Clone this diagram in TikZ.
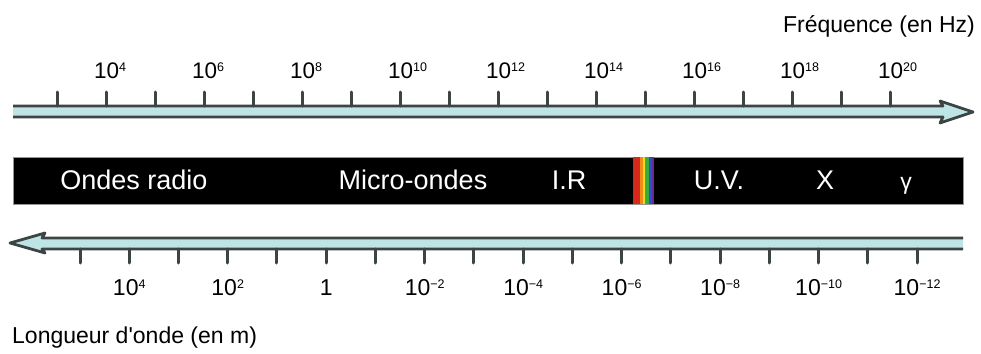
\documentclass[tikz,border=0pt]{standalone}
\usepackage{fontspec}
\setmainfont{Liberation Sans}
\definecolor{shaftfill}{RGB}{190,228,230}
\definecolor{edgegray}{RGB}{60,68,68}
\tikzset{
  axisline/.style={draw=edgegray, line width=2.8pt, line join=round},
  tickmark/.style={draw=edgegray, line width=3pt, line cap=round},
  toplab/.style={anchor=base west, inner sep=0pt, font=\fontsize{22.5}{24}\selectfont},
  botlab/.style={anchor=base, inner sep=0pt, font=\fontsize{23}{25}\selectfont},
  bandlab/.style={anchor=base, inner sep=0pt, text=white, font=\fontsize{27}{30}\selectfont},
  titlelab/.style={inner sep=0pt, font=\fontsize{23}{26}\selectfont},
  stripe/.style={inner sep=0pt, minimum height=47pt, anchor=north west},
}
\newcommand\expo[1]{\raisebox{7pt}{\fontsize{12.5}{12}\selectfont #1}}
\begin{document}
\begin{tikzpicture}[x=1pt,y=-1pt]
\useasboundingbox (0,0) rectangle (981,353);
% frequency axis
\fill[shaftfill] (13,106) -- (943,106) -- (940,101) -- (973,112) -- (940,123) -- (943,117) -- (13,117) -- cycle;
\foreach \i in {0,...,17}
  \draw[tickmark] ({57+49*\i},92) -- ({57+49*\i},106);
\draw[axisline] (13,106) -- (943,106) -- (940,101) -- (973,112) -- (940,123) -- (943,117) -- (13,117);
\foreach \e [count=\k] in {4,6,...,20}
  \node[toplab] (f\e) at ({57+49*(2*\k-1)-12},78) {10\expo{\e}};
\node[titlelab, anchor=base east] (freq) at (975,33) {Fréquence (en Hz)};
% spectrum band
\node[stripe, fill=black, draw={rgb,255:red,150;green,150;blue,150}, line width=0.8pt, minimum width=950pt] (band) at (13,157) {};
\node[stripe, fill={rgb,255:red,215;green,40;blue,30}, minimum width=7pt] (sred) at (633,157) {};
\node[stripe, fill={rgb,255:red,240;green,140;blue,20}, minimum width=2.5pt] (sorange) at (640,157) {};
\node[stripe, fill={rgb,255:red,235;green,220;blue,40}, minimum width=2pt] (syellow) at (642.5,157) {};
\node[stripe, fill={rgb,255:red,60;green,170;blue,60}, minimum width=4.5pt] (sgreen) at (644.5,157) {};
\node[stripe, fill={rgb,255:red,40;green,80;blue,200}, minimum width=2.5pt] (sblue) at (649,157) {};
\node[stripe, fill={rgb,255:red,110;green,40;blue,150}, minimum width=2.5pt] (sviolet) at (651.5,157) {};
\node[bandlab] (radio) at (134,189) {Ondes radio};
\node[bandlab] (micro) at (413,189) {Micro-ondes};
\node[bandlab] (ir) at (569,189) {I.R};
\node[bandlab] (uv) at (719,189) {U.V.};
\node[bandlab] (xr) at (825,189) {X};
\node[bandlab, font=\fontsize{23}{24}\selectfont] (gam) at (906,189) {γ};
% wavelength axis
\fill[shaftfill] (963,238) -- (42,238) -- (45,233) -- (10,243) -- (45,253) -- (42,249) -- (963,249) -- cycle;
\foreach \i in {0,...,17}
  \draw[tickmark] ({80+49.24*\i},249) -- ({80+49.24*\i},263);
\draw[axisline] (963,238) -- (42,238) -- (45,233) -- (10,243) -- (45,253) -- (42,249) -- (963,249);
\foreach \t [count=\k] in {10\expo{4},10\expo{2},1,10\expo{−2},10\expo{−4},10\expo{−6},10\expo{−8},10\expo{−10},10\expo{−12}}
  \node[botlab] (w\k) at ({80+49.24*(2*\k-1)},295) {\t};
\node[titlelab, anchor=base west] (wave) at (12,343) {Longueur d\textquotesingle onde (en m)};
\end{tikzpicture}
\end{document}
